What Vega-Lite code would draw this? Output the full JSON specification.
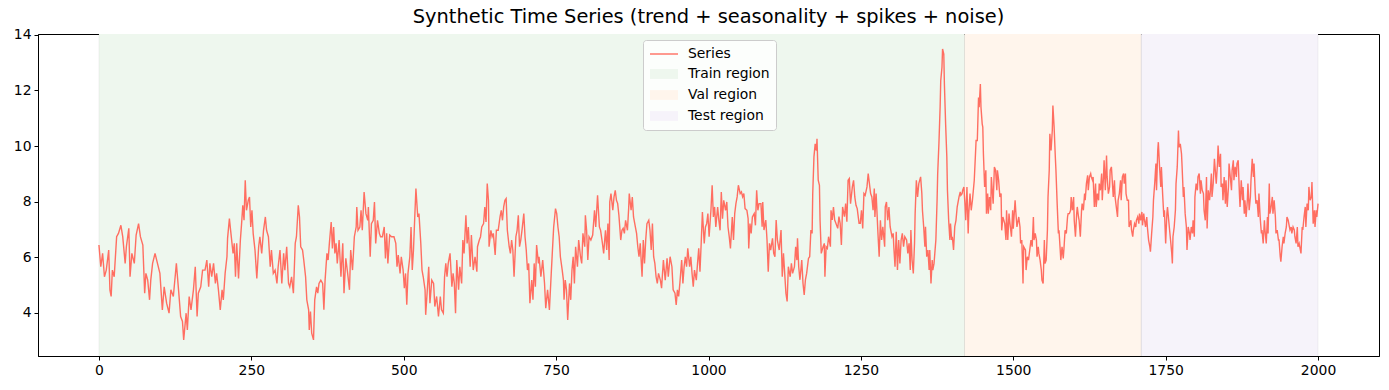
{
"$schema": "https://vega.github.io/schema/vega-lite/v6.json",
"width": 1341, "height": 322,
"autosize": {"type": "none"},
"padding": {"left": 38, "top": 34, "right": 10, "bottom": 34},
"background": "white",
"title": {"text": "Synthetic Time Series (trend + seasonality + spikes + noise)", "font": "DejaVu Sans", "fontSize": 19.4, "fontWeight": "normal", "color": "black", "offset": 0, "anchor": "middle"},
"config": {"view": {"stroke": "black", "strokeWidth": 1}, "axis": {"grid": false, "domainColor": "black", "tickColor": "black", "labelColor": "black", "labelFont": "DejaVu Sans", "labelFontSize": 13.9, "tickSize": 4, "labelPadding": 3, "title": null}},
"datasets": {
"regions": [{"label": "Train region", "start": 0, "end": 1420}, {"label": "Val region", "start": 1420, "end": 1710}, {"label": "Test region", "start": 1710, "end": 2000}],
"series": [
{"t":0,"v":6.44},{"t":3,"v":5.66},{"t":6,"v":6.14},{"t":9,"v":5.30},{"t":12,"v":5.54},{"t":16,"v":6.26},{"t":18,"v":4.83},{"t":20,"v":4.59},{"t":22,"v":5.54},{"t":25,"v":5.30},{"t":29,"v":6.74},{"t":32,"v":6.86},{"t":36,"v":7.15},{"t":39,"v":6.74},{"t":43,"v":5.78},{"t":45,"v":6.38},{"t":49,"v":7.04},{"t":51,"v":5.30},{"t":54,"v":6.14},{"t":58,"v":5.78},{"t":61,"v":6.80},{"t":65,"v":7.21},{"t":68,"v":6.74},{"t":72,"v":6.44},{"t":75,"v":4.71},{"t":77,"v":5.42},{"t":80,"v":5.18},{"t":83,"v":4.47},{"t":85,"v":5.18},{"t":88,"v":5.78},{"t":92,"v":6.14},{"t":96,"v":5.78},{"t":100,"v":5.42},{"t":104,"v":4.11},{"t":107,"v":4.94},{"t":111,"v":4.35},{"t":115,"v":3.99},{"t":118,"v":4.83},{"t":122,"v":4.59},{"t":125,"v":5.30},{"t":127,"v":5.78},{"t":131,"v":4.71},{"t":134,"v":3.87},{"t":137,"v":3.69},{"t":139,"v":3.03},{"t":143,"v":3.99},{"t":145,"v":3.39},{"t":148,"v":4.59},{"t":151,"v":4.11},{"t":155,"v":4.83},{"t":158,"v":5.66},{"t":161,"v":3.87},{"t":163,"v":4.71},{"t":167,"v":4.94},{"t":170,"v":5.54},{"t":174,"v":5.54},
{"t":177,"v":5.90},{"t":180,"v":4.94},{"t":182,"v":5.78},{"t":185,"v":5.30},{"t":188,"v":5.78},{"t":191,"v":5.06},{"t":193,"v":5.42},{"t":196,"v":4.83},{"t":199,"v":4.11},{"t":202,"v":4.83},{"t":204,"v":4.47},{"t":207,"v":5.42},{"t":210,"v":6.02},{"t":211,"v":6.68},{"t":214,"v":7.39},{"t":216,"v":6.97},{"t":220,"v":6.14},{"t":222,"v":6.50},{"t":224,"v":5.30},{"t":226,"v":6.50},{"t":229,"v":5.24},{"t":232,"v":6.62},{"t":234,"v":7.21},{"t":236,"v":7.87},{"t":238,"v":7.33},{"t":240,"v":8.77},{"t":242,"v":7.69},{"t":245,"v":8.05},{"t":247,"v":8.17},{"t":249,"v":7.09},{"t":251,"v":7.69},{"t":253,"v":6.86},{"t":256,"v":6.26},{"t":259,"v":5.24},{"t":262,"v":6.38},{"t":264,"v":6.74},{"t":267,"v":6.14},{"t":270,"v":6.97},{"t":273,"v":7.45},{"t":275,"v":6.97},{"t":278,"v":6.74},{"t":281,"v":5.66},{"t":283,"v":6.26},{"t":286,"v":5.42},{"t":289,"v":5.54},{"t":292,"v":5.06},{"t":294,"v":5.66},{"t":297,"v":6.26},{"t":300,"v":5.06},{"t":303,"v":6.14},{"t":305,"v":5.54},{"t":308,"v":6.38},{"t":311,"v":5.06},{"t":313,"v":4.94},{"t":316,"v":5.30},{"t":319,"v":4.71},{"t":322,"v":6.50},{"t":324,"v":6.74},{"t":327,"v":7.87},{"t":329,"v":7.45},{"t":331,"v":6.38},{"t":334,"v":6.26},{"t":336,"v":5.90},{"t":339,"v":5.30},{"t":341,"v":4.47},{"t":344,"v":4.11},{"t":345,"v":3.39},{"t":347,"v":4.05},{"t":349,"v":3.27},{"t":352,"v":3.03},{"t":354,"v":4.47},{"t":357,"v":4.94},
{"t":359,"v":4.71},{"t":361,"v":5.06},{"t":364,"v":5.18},{"t":367,"v":5.06},{"t":369,"v":4.11},{"t":371,"v":5.18},{"t":374,"v":6.14},{"t":376,"v":5.90},{"t":378,"v":6.50},{"t":381,"v":7.27},{"t":383,"v":6.32},{"t":385,"v":7.09},{"t":387,"v":6.14},{"t":389,"v":6.50},{"t":391,"v":5.78},{"t":394,"v":6.62},{"t":397,"v":5.30},{"t":400,"v":6.50},{"t":402,"v":4.71},{"t":405,"v":5.96},{"t":408,"v":5.42},{"t":411,"v":4.83},{"t":413,"v":6.26},{"t":416,"v":5.54},{"t":419,"v":6.74},{"t":422,"v":7.09},{"t":423,"v":7.81},{"t":425,"v":6.97},{"t":428,"v":7.09},{"t":430,"v":7.69},{"t":432,"v":6.97},{"t":435,"v":8.35},{"t":438,"v":7.57},{"t":441,"v":7.33},{"t":442,"v":7.81},{"t":445,"v":6.02},{"t":447,"v":7.21},{"t":450,"v":7.33},{"t":452,"v":7.99},{"t":454,"v":6.50},{"t":457,"v":7.33},{"t":460,"v":6.86},{"t":462,"v":6.74},{"t":465,"v":6.74},{"t":468,"v":7.09},{"t":470,"v":5.96},{"t":472,"v":6.86},{"t":474,"v":5.78},{"t":477,"v":6.80},{"t":480,"v":6.74},{"t":484,"v":6.74},{"t":487,"v":6.50},{"t":489,"v":5.66},{"t":491,"v":6.08},{"t":494,"v":5.42},{"t":496,"v":6.02},{"t":499,"v":5.54},{"t":501,"v":4.89},{"t":503,"v":5.42},{"t":505,"v":4.29},{"t":507,"v":5.42},{"t":510,"v":6.02},{"t":512,"v":7.09},{"t":514,"v":5.54},{"t":516,"v":6.26},{"t":518,"v":7.39},{"t":520,"v":8.47},{"t":523,"v":7.45},{"t":525,"v":7.57},{"t":528,"v":6.50},{"t":530,"v":5.54},{"t":532,"v":5.30},{"t":535,"v":4.83},{"t":536,"v":3.93},{"t":539,"v":4.94},
{"t":541,"v":5.66},{"t":543,"v":4.35},{"t":546,"v":5.18},{"t":549,"v":5.06},{"t":551,"v":4.23},{"t":554,"v":4.59},{"t":557,"v":3.87},{"t":560,"v":4.59},{"t":562,"v":4.11},{"t":565,"v":3.99},{"t":567,"v":5.30},{"t":569,"v":5.78},{"t":571,"v":5.30},{"t":573,"v":5.78},{"t":576,"v":6.14},{"t":579,"v":4.94},{"t":581,"v":5.42},{"t":583,"v":5.06},{"t":585,"v":3.99},{"t":587,"v":5.90},{"t":590,"v":4.83},{"t":592,"v":5.66},{"t":595,"v":5.06},{"t":597,"v":6.62},{"t":599,"v":6.14},{"t":602,"v":7.51},{"t":604,"v":6.50},{"t":606,"v":7.09},{"t":609,"v":5.66},{"t":611,"v":6.80},{"t":614,"v":5.54},{"t":617,"v":6.02},{"t":620,"v":5.48},{"t":621,"v":6.38},{"t":624,"v":6.62},{"t":626,"v":6.74},{"t":628,"v":7.09},{"t":631,"v":7.21},{"t":633,"v":7.81},{"t":635,"v":7.27},{"t":637,"v":8.65},{"t":639,"v":8.05},{"t":640,"v":6.38},{"t":643,"v":6.97},{"t":645,"v":6.74},{"t":647,"v":6.86},{"t":650,"v":6.08},{"t":652,"v":6.97},{"t":655,"v":6.97},{"t":658,"v":7.45},{"t":660,"v":7.69},{"t":662,"v":7.33},{"t":664,"v":7.81},{"t":666,"v":8.05},{"t":668,"v":8.11},{"t":670,"v":6.97},{"t":673,"v":6.38},{"t":675,"v":6.14},{"t":677,"v":6.62},{"t":679,"v":6.26},{"t":681,"v":5.30},{"t":684,"v":6.74},{"t":686,"v":6.97},{"t":688,"v":7.51},{"t":690,"v":6.38},{"t":692,"v":6.62},{"t":694,"v":6.97},{"t":697,"v":7.57},{"t":699,"v":6.74},{"t":701,"v":6.26},{"t":703,"v":5.54},{"t":705,"v":5.78},{"t":707,"v":4.35},{"t":710,"v":5.18},{"t":712,"v":4.47},{"t":714,"v":5.78},{"t":716,"v":4.94},{"t":718,"v":6.44},{"t":721,"v":5.78},
{"t":722,"v":6.02},{"t":725,"v":5.30},{"t":728,"v":5.90},{"t":731,"v":5.06},{"t":733,"v":4.17},{"t":736,"v":4.83},{"t":739,"v":4.11},{"t":742,"v":5.42},{"t":744,"v":6.26},{"t":746,"v":7.09},{"t":749,"v":7.75},{"t":751,"v":7.57},{"t":753,"v":7.09},{"t":755,"v":6.74},{"t":757,"v":6.02},{"t":760,"v":5.54},{"t":762,"v":5.18},{"t":763,"v":4.47},{"t":765,"v":5.18},{"t":767,"v":4.83},{"t":769,"v":3.75},{"t":772,"v":5.06},{"t":774,"v":4.47},{"t":776,"v":5.54},{"t":778,"v":6.02},{"t":780,"v":5.06},{"t":782,"v":6.38},{"t":785,"v":5.66},{"t":787,"v":6.62},{"t":790,"v":6.02},{"t":792,"v":5.78},{"t":794,"v":6.86},{"t":797,"v":6.38},{"t":798,"v":7.51},{"t":800,"v":6.97},{"t":802,"v":5.90},{"t":804,"v":6.74},{"t":807,"v":6.62},{"t":810,"v":6.80},{"t":813,"v":7.69},{"t":815,"v":7.09},{"t":818,"v":8.23},{"t":821,"v":7.09},{"t":823,"v":6.97},{"t":826,"v":6.50},{"t":828,"v":6.14},{"t":831,"v":6.97},{"t":833,"v":6.26},{"t":835,"v":7.21},{"t":837,"v":5.90},{"t":838,"v":7.99},{"t":840,"v":8.29},{"t":843,"v":7.69},{"t":845,"v":8.17},{"t":847,"v":8.41},{"t":849,"v":8.05},{"t":851,"v":7.93},{"t":853,"v":7.51},{"t":856,"v":6.62},{"t":858,"v":6.97},{"t":860,"v":7.04},{"t":862,"v":6.86},{"t":864,"v":7.33},{"t":867,"v":6.97},{"t":869,"v":7.75},{"t":870,"v":8.29},{"t":873,"v":7.69},{"t":875,"v":8.17},{"t":877,"v":7.45},{"t":880,"v":7.09},{"t":882,"v":6.86},{"t":884,"v":6.38},{"t":886,"v":6.02},{"t":888,"v":6.50},{"t":891,"v":5.30},{"t":893,"v":6.62},{"t":895,"v":5.78},{"t":897,"v":6.62},{"t":899,"v":7.21},{"t":902,"v":7.33},
{"t":904,"v":6.97},{"t":906,"v":6.26},{"t":908,"v":7.21},{"t":910,"v":6.02},{"t":912,"v":5.78},{"t":914,"v":5.30},{"t":916,"v":5.06},{"t":918,"v":5.42},{"t":921,"v":5.18},{"t":923,"v":4.89},{"t":926,"v":5.90},{"t":929,"v":5.18},{"t":932,"v":5.96},{"t":934,"v":5.30},{"t":937,"v":6.02},{"t":940,"v":5.66},{"t":942,"v":4.83},{"t":945,"v":4.71},{"t":947,"v":4.29},{"t":949,"v":4.83},{"t":951,"v":4.59},{"t":953,"v":5.06},{"t":956,"v":5.90},{"t":958,"v":5.06},{"t":960,"v":5.66},{"t":962,"v":6.02},{"t":964,"v":5.66},{"t":966,"v":6.32},{"t":969,"v":5.66},{"t":971,"v":6.02},{"t":973,"v":5.42},{"t":975,"v":4.94},{"t":977,"v":5.54},{"t":980,"v":5.18},{"t":982,"v":5.78},{"t":984,"v":6.32},{"t":986,"v":5.48},{"t":988,"v":6.50},{"t":990,"v":7.63},{"t":993,"v":6.50},{"t":995,"v":7.09},{"t":997,"v":7.21},{"t":999,"v":7.57},{"t":1001,"v":6.74},{"t":1004,"v":7.69},{"t":1006,"v":8.59},{"t":1008,"v":7.45},{"t":1010,"v":7.81},{"t":1012,"v":7.09},{"t":1015,"v":7.81},{"t":1017,"v":7.33},{"t":1019,"v":6.97},{"t":1021,"v":8.35},{"t":1023,"v":7.39},{"t":1025,"v":8.05},{"t":1028,"v":7.69},{"t":1030,"v":7.99},{"t":1032,"v":7.09},{"t":1034,"v":6.74},{"t":1036,"v":6.32},{"t":1039,"v":7.45},{"t":1041,"v":6.62},{"t":1043,"v":7.57},{"t":1045,"v":7.93},{"t":1047,"v":8.17},{"t":1049,"v":8.59},{"t":1052,"v":8.29},{"t":1054,"v":8.35},{"t":1056,"v":8.17},{"t":1058,"v":8.29},{"t":1060,"v":7.75},{"t":1063,"v":7.69},{"t":1065,"v":7.39},{"t":1066,"v":6.32},{"t":1068,"v":7.21},{"t":1070,"v":6.86},{"t":1072,"v":7.45},{"t":1075,"v":7.57},{"t":1077,"v":7.15},{"t":1079,"v":8.41},{"t":1081,"v":7.69},{"t":1083,"v":7.93},
{"t":1086,"v":7.93},{"t":1088,"v":7.10},{"t":1089,"v":7.99},{"t":1091,"v":6.98},{"t":1094,"v":7.34},{"t":1096,"v":6.62},{"t":1098,"v":5.48},{"t":1100,"v":6.50},{"t":1102,"v":6.26},{"t":1105,"v":6.68},{"t":1107,"v":6.14},{"t":1109,"v":6.02},{"t":1111,"v":7.34},{"t":1113,"v":6.62},{"t":1116,"v":6.26},{"t":1119,"v":6.98},{"t":1121,"v":5.30},{"t":1123,"v":6.14},{"t":1125,"v":5.42},{"t":1127,"v":4.71},{"t":1129,"v":4.41},{"t":1131,"v":5.66},{"t":1134,"v":5.30},{"t":1136,"v":5.78},{"t":1138,"v":5.42},{"t":1141,"v":5.66},{"t":1143,"v":6.38},{"t":1145,"v":5.90},{"t":1146,"v":6.68},{"t":1148,"v":5.66},{"t":1150,"v":5.19},{"t":1153,"v":5.90},{"t":1155,"v":5.07},{"t":1157,"v":4.65},{"t":1159,"v":5.19},{"t":1161,"v":5.42},{"t":1164,"v":5.96},{"t":1166,"v":6.02},{"t":1168,"v":6.98},{"t":1170,"v":6.86},{"t":1171,"v":8.29},{"t":1173,"v":9.61},{"t":1175,"v":10.08},{"t":1177,"v":9.84},{"t":1178,"v":10.26},{"t":1180,"v":8.77},{"t":1182,"v":8.59},{"t":1183,"v":7.34},{"t":1185,"v":6.14},{"t":1188,"v":6.38},{"t":1190,"v":6.50},{"t":1191,"v":5.30},{"t":1193,"v":6.38},{"t":1195,"v":6.32},{"t":1197,"v":6.74},{"t":1200,"v":6.38},{"t":1201,"v":7.69},{"t":1203,"v":7.34},{"t":1205,"v":7.81},{"t":1207,"v":7.34},{"t":1209,"v":7.22},{"t":1212,"v":7.04},{"t":1214,"v":7.46},{"t":1216,"v":7.22},{"t":1218,"v":6.44},{"t":1220,"v":7.81},{"t":1223,"v":7.46},{"t":1225,"v":7.93},{"t":1227,"v":7.28},{"t":1229,"v":8.77},{"t":1231,"v":8.83},{"t":1233,"v":7.93},{"t":1236,"v":8.53},{"t":1238,"v":8.77},{"t":1240,"v":8.17},{"t":1242,"v":7.87},{"t":1244,"v":7.75},{"t":1247,"v":7.22},{"t":1249,"v":7.22},{"t":1251,"v":7.69},{"t":1253,"v":7.04},{"t":1255,"v":8.29},{"t":1257,"v":8.23},{"t":1260,"v":8.53},{"t":1262,"v":9.01},{"t":1264,"v":8.65},{"t":1266,"v":8.29},
{"t":1268,"v":8.17},{"t":1270,"v":7.69},{"t":1272,"v":8.47},{"t":1273,"v":7.45},{"t":1275,"v":8.29},{"t":1278,"v":6.86},{"t":1280,"v":6.02},{"t":1282,"v":7.33},{"t":1284,"v":6.62},{"t":1286,"v":7.10},{"t":1289,"v":6.38},{"t":1290,"v":7.81},{"t":1292,"v":7.99},{"t":1294,"v":7.33},{"t":1296,"v":7.81},{"t":1298,"v":7.10},{"t":1301,"v":6.74},{"t":1303,"v":6.86},{"t":1304,"v":6.38},{"t":1306,"v":5.66},{"t":1308,"v":6.92},{"t":1310,"v":5.54},{"t":1312,"v":6.62},{"t":1314,"v":5.78},{"t":1316,"v":6.62},{"t":1318,"v":6.86},{"t":1320,"v":6.38},{"t":1322,"v":6.74},{"t":1325,"v":6.62},{"t":1327,"v":6.14},{"t":1329,"v":6.50},{"t":1331,"v":5.54},{"t":1332,"v":6.98},{"t":1334,"v":5.90},{"t":1336,"v":5.42},{"t":1338,"v":6.50},{"t":1339,"v":7.57},{"t":1341,"v":8.77},{"t":1343,"v":8.17},{"t":1345,"v":8.65},{"t":1348,"v":8.89},{"t":1350,"v":8.29},{"t":1351,"v":7.69},{"t":1353,"v":7.10},{"t":1355,"v":6.38},{"t":1356,"v":7.10},{"t":1358,"v":6.02},{"t":1360,"v":6.26},{"t":1362,"v":5.54},{"t":1363,"v":6.26},{"t":1365,"v":5.06},{"t":1367,"v":5.90},{"t":1368,"v":5.54},{"t":1370,"v":5.78},{"t":1373,"v":6.62},{"t":1375,"v":8.05},{"t":1376,"v":9.01},{"t":1378,"v":10.08},{"t":1380,"v":11.40},{"t":1381,"v":12.35},{"t":1383,"v":12.83},{"t":1384,"v":13.49},{"t":1386,"v":13.31},{"t":1387,"v":12.23},{"t":1389,"v":10.80},{"t":1391,"v":9.60},{"t":1392,"v":8.41},{"t":1394,"v":7.33},{"t":1396,"v":6.62},{"t":1397,"v":7.21},{"t":1399,"v":6.62},{"t":1400,"v":6.74},{"t":1402,"v":6.26},{"t":1404,"v":7.10},{"t":1406,"v":7.33},{"t":1408,"v":7.81},{"t":1409,"v":7.93},{"t":1411,"v":8.17},{"t":1413,"v":8.35},{"t":1414,"v":8.23},{"t":1416,"v":8.29},{"t":1417,"v":8.41},{"t":1419,"v":8.53},{"t":1421,"v":7.81},{"t":1422,"v":7.33},{"t":1424,"v":8.53},{"t":1426,"v":6.86},{"t":1427,"v":7.57},{"t":1429,"v":8.29},{"t":1431,"v":7.69},{"t":1433,"v":8.05},{"t":1434,"v":8.29},{"t":1436,"v":8.77},{"t":1438,"v":9.72},{"t":1439,"v":10.20},{"t":1441,"v":10.20},{"t":1443,"v":11.75},{"t":1444,"v":11.40},{"t":1446,"v":12.23},{"t":1447,"v":11.40},{"t":1449,"v":10.80},
{"t":1450,"v":10.68},{"t":1451,"v":9.72},{"t":1453,"v":8.53},{"t":1455,"v":9.13},{"t":1456,"v":7.57},{"t":1458,"v":8.29},{"t":1459,"v":7.57},{"t":1461,"v":8.17},{"t":1463,"v":7.69},{"t":1464,"v":8.89},{"t":1467,"v":7.93},{"t":1469,"v":9.25},{"t":1471,"v":9.13},{"t":1473,"v":8.41},{"t":1474,"v":9.13},{"t":1476,"v":8.77},{"t":1478,"v":8.17},{"t":1480,"v":8.29},{"t":1481,"v":6.97},{"t":1483,"v":7.45},{"t":1486,"v":7.21},{"t":1488,"v":6.62},{"t":1489,"v":7.69},{"t":1491,"v":6.62},{"t":1493,"v":7.57},{"t":1494,"v":7.33},{"t":1497,"v":6.74},{"t":1499,"v":7.69},{"t":1500,"v":7.03},{"t":1503,"v":8.05},{"t":1504,"v":7.69},{"t":1506,"v":7.09},{"t":1509,"v":7.45},{"t":1511,"v":7.09},{"t":1512,"v":6.50},{"t":1514,"v":6.62},{"t":1516,"v":5.06},{"t":1517,"v":6.38},{"t":1520,"v":6.26},{"t":1521,"v":5.54},{"t":1523,"v":6.02},{"t":1525,"v":5.90},{"t":1527,"v":6.26},{"t":1529,"v":6.62},{"t":1531,"v":6.38},{"t":1533,"v":7.45},{"t":1534,"v":6.62},{"t":1536,"v":6.86},{"t":1538,"v":6.62},{"t":1539,"v":6.02},{"t":1541,"v":6.38},{"t":1542,"v":6.14},{"t":1544,"v":5.90},{"t":1546,"v":5.54},{"t":1547,"v":5.18},{"t":1549,"v":5.06},{"t":1551,"v":6.62},{"t":1552,"v":5.78},{"t":1554,"v":5.90},{"t":1556,"v":6.97},{"t":1557,"v":8.17},{"t":1559,"v":9.13},{"t":1560,"v":10.44},{"t":1562,"v":9.84},{"t":1564,"v":10.56},{"t":1565,"v":11.46},{"t":1567,"v":10.68},{"t":1569,"v":9.60},{"t":1570,"v":9.13},{"t":1572,"v":7.93},{"t":1574,"v":6.86},{"t":1575,"v":6.97},{"t":1577,"v":6.26},{"t":1578,"v":5.90},{"t":1580,"v":6.38},{"t":1582,"v":5.96},{"t":1583,"v":6.26},{"t":1585,"v":6.97},{"t":1587,"v":6.86},{"t":1589,"v":7.45},{"t":1590,"v":7.57},{"t":1592,"v":7.57},{"t":1594,"v":7.69},{"t":1595,"v":8.17},{"t":1597,"v":7.69},{"t":1599,"v":8.17},{"t":1600,"v":7.33},{"t":1602,"v":6.74},{"t":1604,"v":7.57},{"t":1605,"v":7.81},{"t":1607,"v":7.45},{"t":1608,"v":7.33},{"t":1610,"v":6.74},{"t":1612,"v":7.69},{"t":1613,"v":7.93},{"t":1615,"v":7.69},{"t":1617,"v":8.29},{"t":1618,"v":8.05},{"t":1620,"v":8.65},{"t":1622,"v":8.95},{"t":1623,"v":8.41},{"t":1625,"v":8.89},{"t":1627,"v":9.01},{"t":1628,"v":8.89},{"t":1630,"v":8.77},
{"t":1631,"v":8.89},{"t":1633,"v":7.81},{"t":1635,"v":8.65},{"t":1636,"v":7.81},{"t":1638,"v":8.29},{"t":1640,"v":8.05},{"t":1641,"v":8.65},{"t":1643,"v":8.41},{"t":1645,"v":9.01},{"t":1646,"v":8.05},{"t":1648,"v":8.89},{"t":1649,"v":9.49},{"t":1651,"v":8.41},{"t":1653,"v":9.66},{"t":1654,"v":8.89},{"t":1656,"v":8.29},{"t":1658,"v":8.53},{"t":1659,"v":9.13},{"t":1661,"v":9.25},{"t":1663,"v":8.53},{"t":1664,"v":8.17},{"t":1666,"v":8.77},{"t":1667,"v":8.17},{"t":1669,"v":7.81},{"t":1671,"v":7.45},{"t":1672,"v":8.05},{"t":1674,"v":8.29},{"t":1676,"v":8.77},{"t":1677,"v":8.05},{"t":1679,"v":8.89},{"t":1681,"v":9.01},{"t":1682,"v":8.65},{"t":1684,"v":9.01},{"t":1685,"v":8.29},{"t":1687,"v":8.05},{"t":1689,"v":8.05},{"t":1690,"v":7.09},{"t":1693,"v":7.33},{"t":1694,"v":6.98},{"t":1696,"v":6.74},{"t":1697,"v":6.98},{"t":1699,"v":7.21},{"t":1701,"v":7.09},{"t":1702,"v":7.33},{"t":1704,"v":7.45},{"t":1706,"v":7.21},{"t":1707,"v":7.57},{"t":1709,"v":7.33},{"t":1711,"v":7.63},{"t":1712,"v":7.15},{"t":1714,"v":7.57},{"t":1715,"v":7.39},{"t":1717,"v":7.09},{"t":1719,"v":7.45},{"t":1720,"v":7.09},{"t":1722,"v":6.62},{"t":1724,"v":6.38},{"t":1725,"v":6.20},{"t":1727,"v":6.86},{"t":1729,"v":7.45},{"t":1730,"v":8.05},{"t":1732,"v":8.65},{"t":1734,"v":9.37},{"t":1735,"v":8.41},{"t":1737,"v":9.84},{"t":1738,"v":10.14},{"t":1740,"v":9.25},{"t":1742,"v":8.53},{"t":1743,"v":9.25},{"t":1745,"v":8.29},{"t":1747,"v":7.45},{"t":1748,"v":7.69},{"t":1750,"v":6.50},{"t":1752,"v":7.57},{"t":1753,"v":7.81},{"t":1755,"v":7.33},{"t":1756,"v":7.09},{"t":1758,"v":6.62},{"t":1760,"v":6.14},{"t":1761,"v":5.78},{"t":1762,"v":6.74},{"t":1764,"v":7.09},{"t":1766,"v":7.69},{"t":1767,"v":8.65},{"t":1769,"v":9.25},{"t":1771,"v":10.56},{"t":1772,"v":9.96},{"t":1774,"v":10.08},{"t":1776,"v":9.72},{"t":1777,"v":9.25},{"t":1779,"v":8.17},{"t":1780,"v":8.53},{"t":1782,"v":7.57},{"t":1784,"v":7.09},{"t":1785,"v":6.26},{"t":1787,"v":7.09},{"t":1789,"v":6.86},{"t":1790,"v":6.62},{"t":1792,"v":7.09},{"t":1794,"v":6.86},{"t":1795,"v":7.33},{"t":1797,"v":6.74},{"t":1798,"v":8.17},{"t":1800,"v":8.65},{"t":1802,"v":8.41},{"t":1803,"v":8.89},{"t":1805,"v":9.01},{"t":1807,"v":8.29},{"t":1808,"v":8.77},{"t":1810,"v":8.41},{"t":1812,"v":8.29},
{"t":1813,"v":7.69},{"t":1815,"v":7.33},{"t":1817,"v":8.89},{"t":1818,"v":7.04},{"t":1820,"v":8.41},{"t":1822,"v":8.05},{"t":1823,"v":8.29},{"t":1825,"v":9.01},{"t":1826,"v":8.17},{"t":1828,"v":8.65},{"t":1830,"v":9.54},{"t":1831,"v":9.25},{"t":1833,"v":8.65},{"t":1835,"v":9.37},{"t":1836,"v":10.02},{"t":1838,"v":9.25},{"t":1840,"v":9.72},{"t":1841,"v":8.53},{"t":1843,"v":8.65},{"t":1844,"v":8.05},{"t":1846,"v":8.89},{"t":1848,"v":7.93},{"t":1849,"v":8.77},{"t":1851,"v":7.81},{"t":1853,"v":8.53},{"t":1854,"v":9.37},{"t":1856,"v":8.89},{"t":1858,"v":8.41},{"t":1859,"v":9.13},{"t":1861,"v":9.49},{"t":1862,"v":8.77},{"t":1864,"v":9.25},{"t":1866,"v":8.89},{"t":1867,"v":9.37},{"t":1869,"v":9.49},{"t":1871,"v":8.29},{"t":1872,"v":7.81},{"t":1874,"v":8.77},{"t":1876,"v":8.05},{"t":1877,"v":8.53},{"t":1879,"v":7.57},{"t":1880,"v":8.05},{"t":1882,"v":7.45},{"t":1884,"v":8.05},{"t":1885,"v":8.65},{"t":1887,"v":7.69},{"t":1889,"v":8.17},{"t":1890,"v":8.77},{"t":1892,"v":9.54},{"t":1894,"v":8.89},{"t":1895,"v":9.37},{"t":1897,"v":8.29},{"t":1898,"v":7.93},{"t":1900,"v":8.05},{"t":1902,"v":7.45},{"t":1903,"v":8.29},{"t":1905,"v":7.45},{"t":1907,"v":6.86},{"t":1908,"v":6.98},{"t":1910,"v":6.50},{"t":1912,"v":7.33},{"t":1913,"v":6.98},{"t":1915,"v":6.50},{"t":1917,"v":7.45},{"t":1918,"v":6.86},{"t":1920,"v":8.65},{"t":1921,"v":7.57},{"t":1923,"v":7.81},{"t":1925,"v":8.17},{"t":1926,"v":7.57},{"t":1928,"v":8.05},{"t":1930,"v":7.45},{"t":1931,"v":6.86},{"t":1933,"v":6.98},{"t":1935,"v":6.62},{"t":1936,"v":6.62},{"t":1938,"v":6.02},{"t":1939,"v":5.84},{"t":1941,"v":6.38},{"t":1943,"v":6.74},{"t":1944,"v":6.50},{"t":1946,"v":6.86},{"t":1948,"v":7.09},{"t":1949,"v":7.45},{"t":1951,"v":7.33},{"t":1953,"v":7.09},{"t":1954,"v":6.98},{"t":1956,"v":7.09},{"t":1957,"v":6.86},{"t":1959,"v":7.09},{"t":1961,"v":6.98},{"t":1962,"v":6.74},{"t":1964,"v":6.50},{"t":1966,"v":7.09},{"t":1967,"v":6.38},{"t":1969,"v":6.50},{"t":1971,"v":6.26},{"t":1972,"v":6.14},{"t":1974,"v":7.09},{"t":1975,"v":6.98},{"t":1977,"v":7.45},{"t":1979,"v":7.81},{"t":1980,"v":7.09},{"t":1982,"v":7.93},{"t":1984,"v":7.69},{"t":1985,"v":8.53},{"t":1987,"v":8.05},{"t":1989,"v":8.17},{"t":1990,"v":8.71},{"t":1992,"v":7.21},{"t":1994,"v":7.69},{"t":1995,"v":7.09},{"t":1997,"v":7.69},{"t":1998,"v":7.45},{"t":2000,"v":7.93}
]
},
"layer": [
{"data": {"name": "regions"},
 "mark": {"type": "rect"},
 "encoding": {
  "x": {"field": "start", "type": "quantitative", "scale": {"domain": [-100, 2100], "nice": false, "zero": false}, "axis": {"values": [0, 250, 500, 750, 1000, 1250, 1500, 1750, 2000], "format": "d"}},
  "x2": {"field": "end"},
  "fill": {"field": "label", "type": "nominal",
   "scale": {"domain": ["Series", "Train region", "Val region", "Test region"], "range": ["#ff6e61", "#eef7ee", "#fff5ec", "#f6f3fa"]},
   "legend": {"title": null, "orient": "none", "legendX": 605, "legendY": 6, "fillColor": "rgba(255,255,255,0.8)", "strokeColor": "#cccccc", "cornerRadius": 3, "padding": 6, "labelFont": "DejaVu Sans", "labelFontSize": 13.9, "labelColor": "black", "symbolSize": 196, "symbolOffset": 7, "labelOffset": 16, "rowPadding": 5,
    "symbolType": {"expr": "datum.value === 'Series' ? 'M-2,0H2' : 'M-2,-0.7H2V0.7H-2Z'"},
    "symbolStrokeColor": {"expr": "datum.value === 'Series' ? '#ff6e61' : 'transparent'"},
    "symbolStrokeWidth": 1.4,
    "symbolOpacity": 1}
  }
 }
},
{"data": {"name": "regions"},
 "mark": {"type": "rule", "color": "#000000", "opacity": 0.05, "strokeWidth": 1},
 "encoding": {"x": {"field": "start", "type": "quantitative"}}
},
{"data": {"name": "regions"},
 "mark": {"type": "rule", "color": "#000000", "opacity": 0.05, "strokeWidth": 1},
 "encoding": {"x": {"field": "end", "type": "quantitative"}}
},
{"data": {"name": "series"},
 "mark": {"type": "line", "color": "#ff6e61", "strokeWidth": 1.4},
 "encoding": {
  "x": {"field": "t", "type": "quantitative"},
  "y": {"field": "v", "type": "quantitative", "scale": {"domain": [2.45, 14.03], "nice": false, "zero": false}, "axis": {"values": [4, 6, 8, 10, 12, 14]}}
 }
}
]
}
